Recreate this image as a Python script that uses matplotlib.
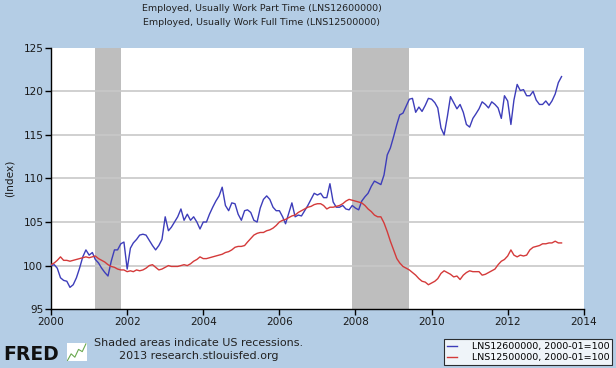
import matplotlib
matplotlib.use("Agg")
import matplotlib.pyplot as plt
import matplotlib.dates as mdates
import pandas as pd

# monthly index values, 2000-01 .. 2013-06 (2000-01 = 100)
part_time = [
    100.0, 100.1, 99.7, 98.6, 98.3, 98.2, 97.5, 97.8, 98.6, 99.7, 101.0, 101.8,
    101.2, 101.5, 100.7, 100.3, 99.7, 99.2, 98.8, 100.5, 101.8, 101.8, 102.5, 102.7,
    99.6, 102.0, 102.6, 103.0, 103.5, 103.6, 103.5, 102.9, 102.3, 101.8, 102.3, 103.0,
    105.6, 104.0, 104.4, 105.0, 105.6, 106.5, 105.2, 105.9, 105.2, 105.6, 105.0, 104.2,
    105.0, 105.0, 105.9, 106.7, 107.4, 108.0, 109.0, 106.9, 106.3, 107.2, 107.1, 105.9,
    105.2, 106.3, 106.4, 106.1, 105.2, 105.0, 106.6, 107.6, 108.0, 107.6, 106.7, 106.3,
    106.3, 105.6, 104.8, 106.0, 107.2, 105.6, 105.8, 105.7, 106.3, 106.9, 107.6, 108.3,
    108.1, 108.3, 107.8, 107.8, 109.4, 107.3, 106.7, 106.7, 106.9, 106.5, 106.4, 106.9,
    106.6, 106.4, 107.4, 107.9, 108.3, 109.1, 109.7, 109.5, 109.3, 110.4, 112.7, 113.5,
    114.8, 116.2, 117.3, 117.5, 118.3, 119.1, 119.2, 117.6, 118.2, 117.7, 118.4, 119.2,
    119.1, 118.7, 118.1, 115.8, 115.0, 117.1, 119.4, 118.7, 118.0, 118.5, 117.6, 116.2,
    115.9, 116.9, 117.4, 118.0, 118.8, 118.5, 118.1, 118.8, 118.5, 118.1, 116.9, 119.5,
    118.9, 116.2, 119.0, 120.8, 120.1, 120.2, 119.5, 119.5, 120.0, 119.0, 118.5, 118.5,
    118.9, 118.4, 118.9, 119.7, 121.0, 121.7,
]
full_time = [
    100.1, 100.3, 100.6, 101.0, 100.6, 100.6, 100.5, 100.6, 100.7, 100.8, 100.9, 101.0,
    100.9, 101.0, 101.1, 100.8, 100.6, 100.4, 100.1, 99.9, 99.8, 99.6, 99.5, 99.5,
    99.3, 99.4, 99.3, 99.5, 99.4, 99.5, 99.7, 100.0, 100.1, 99.8, 99.5, 99.6,
    99.8, 100.0, 99.9, 99.9, 99.9, 100.0, 100.1, 100.0, 100.2, 100.5, 100.7, 101.0,
    100.8, 100.8, 100.9, 101.0, 101.1, 101.2, 101.3, 101.5, 101.6, 101.8, 102.1, 102.2,
    102.2, 102.3, 102.7, 103.1, 103.5, 103.7, 103.8, 103.8, 104.0, 104.1, 104.3, 104.6,
    105.0, 105.2, 105.3, 105.5, 105.7, 105.8, 106.1, 106.3, 106.5, 106.7, 106.8, 107.0,
    107.1, 107.1, 106.9, 106.5, 106.7, 106.7, 106.8, 106.9, 107.1, 107.4, 107.6, 107.5,
    107.4, 107.3, 107.2, 106.9, 106.5, 106.2, 105.8, 105.6, 105.6, 104.9, 103.9, 102.8,
    101.8, 100.8, 100.3, 99.9, 99.7, 99.5, 99.2, 98.9, 98.5, 98.2, 98.1, 97.8,
    98.0, 98.2, 98.5, 99.1, 99.4, 99.2, 99.0, 98.7, 98.8, 98.4, 98.9, 99.2,
    99.4, 99.3, 99.3, 99.3, 98.9, 99.0, 99.2, 99.4, 99.6, 100.1, 100.5, 100.7,
    101.1, 101.8, 101.2, 101.0, 101.2, 101.1, 101.2, 101.8, 102.1, 102.2, 102.3, 102.5,
    102.5, 102.6, 102.6, 102.8, 102.6, 102.6,
]
recessions = [("2001-03-01", "2001-11-01"), ("2007-12-01", "2009-06-01")]
series_labels = ["LNS12600000, 2000-01=100", "LNS12500000, 2000-01=100"]
titles = ["Employed, Usually Work Part Time (LNS12600000)",
          "Employed, Usually Work Full Time (LNS12500000)"]
yticks = [95, 100, 105, 110, 115, 120, 125]

dates = pd.date_range("2000-01-01", periods=len(part_time), freq="MS")

bg = "#b4cde5"
fig = plt.figure(figsize=(6.16, 3.68), dpi=100, facecolor=bg)
ax = fig.add_axes([0.0828, 0.160, 0.865, 0.710])
ax.set_facecolor("white")

for start, end in recessions:
    ax.axvspan(pd.Timestamp(start), pd.Timestamp(end), color="#bebebe", lw=0, zorder=1)

for y in yticks[1:-1]:
    ax.axhline(y, color="#c8c8c8", lw=1.2, zorder=1.5)

ax.plot(dates, part_time, color="#3d3dba", lw=1.0, zorder=3, label=series_labels[0])
ax.plot(dates, full_time, color="#d43a3a", lw=1.0, zorder=3, label=series_labels[1])

ax.set_xlim(pd.Timestamp("2000-01-01"), pd.Timestamp("2014-01-01"))
ax.set_ylim(95, 125)
ax.set_yticks(yticks)
ax.xaxis.set_major_locator(mdates.YearLocator(2))
ax.xaxis.set_major_formatter(mdates.DateFormatter("%Y"))
ax.tick_params(axis="both", labelsize=7.6, color="black", length=4, width=1, pad=1.5,
               labelcolor="#1a1a1a")
for side in ("top", "right"):
    ax.spines[side].set_visible(False)
for side in ("left", "bottom"):
    ax.spines[side].set_color("black")
    ax.spines[side].set_linewidth(1.0)
ax.set_ylabel("(Index)", fontsize=7.6, labelpad=6, color="#1a1a1a")

for i, t in enumerate(titles):
    fig.text(0.425, 0.978 - i * 0.038, t, ha="center", va="center", fontsize=6.8, color="#222222")

leg = fig.legend(loc="lower right", bbox_to_anchor=(0.997, 0.004), fontsize=6.8,
                 frameon=True, fancybox=False, edgecolor="black", handlelength=1.0,
                 borderpad=0.3, labelspacing=0.2, handletextpad=1.6, borderaxespad=0.2)
leg.get_frame().set_linewidth(0.8)

fig.text(0.322, 0.068, "Shaded areas indicate US recessions.", ha="center", va="center",
         fontsize=8.0, color="#222222")
fig.text(0.322, 0.032, "2013 research.stlouisfed.org", ha="center", va="center",
         fontsize=8.0, color="#222222")
fig.text(0.006, 0.038, "FRED", ha="left", va="center", fontsize=13.5, fontweight="heavy",
         color="#111111", family="DejaVu Sans")

# small logo icon next to FRED
icon = fig.add_axes([0.108, 0.018, 0.033, 0.05])
icon.set_facecolor("white")
icon.plot([0, 1, 2, 3, 4, 5], [0.2, 0.5, 0.35, 0.7, 0.6, 0.95], color="#6aa84f", lw=0.8)
icon.set_xticks([])
icon.set_yticks([])
for s in icon.spines.values():
    s.set_visible(False)

fig.savefig("out.png", dpi=100, facecolor=bg)
